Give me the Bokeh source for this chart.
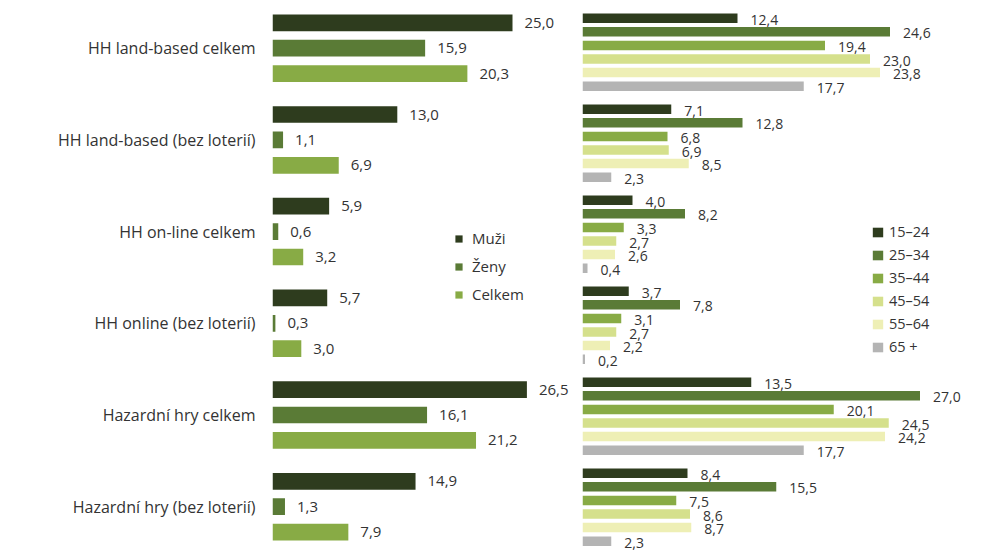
from bokeh.plotting import figure
from bokeh.models import ColumnDataSource, Range1d, FixedTicker, Legend, LegendItem
from bokeh.layouts import row
from bokeh.core.properties import value
from bokeh.embed import file_html
from bokeh.resources import INLINE

# ---------------- data ----------------
categories = [
    "HH land-based celkem",
    "HH land-based (bez loterií)",
    "HH on-line celkem",
    "HH online (bez loterií)",
    "Hazardní hry celkem",
    "Hazardní hry (bez loterií)",
]
sex_series = ["Muži", "Ženy", "Celkem"]
muzi = [25.0, 13.0, 5.9, 5.7, 26.5, 14.9]
zeny = [15.9, 1.1, 0.6, 0.3, 16.1, 1.3]
celkem = [20.3, 6.9, 3.2, 3.0, 21.2, 7.9]

age_series = ["15–24", "25–34", "35–44", "45–54", "55–64", "65 +"]
age_15_24 = [12.4, 7.1, 4.0, 3.7, 13.5, 8.4]
age_25_34 = [24.6, 12.8, 8.2, 7.8, 27.0, 15.5]
age_35_44 = [19.4, 6.8, 3.3, 3.1, 20.1, 7.5]
age_45_54 = [23.0, 6.9, 2.7, 2.7, 24.5, 8.6]
age_55_64 = [23.8, 8.5, 2.6, 2.2, 24.2, 8.7]
age_65 = [17.7, 2.3, 0.4, 0.2, 17.7, 2.3]

# ---------------- styles / layout ----------------
FONT = "Open Sans"
TEXT_COLOR = "#333333"
sex_colors = ["#2e3c1e", "#5a7b36", "#88ab45"]
age_colors = ["#2e3c1e", "#5a7b36", "#88ab45", "#d5e08c", "#eeefb5", "#b4b4b4"]

H = 554
Y_TOP, Y_BOTTOM = 0, 554          # y in pixel-like units (downwards)

L_FIRST, L_PITCH, L_STEP, L_BAR = 22.3, 91.7, 25.4, 16.7
R_FIRST, R_PITCH, R_STEP, R_BAR = 17.7, 91.0, 13.6, 9.5


def fmt(v):
    return f"{v:.1f}".replace(".", ",")


def base_fig(width, x_end, border_left):
    p = figure(width=width, height=H, output_backend="svg", toolbar_location=None,
               x_range=Range1d(0, x_end), y_range=Range1d(Y_BOTTOM, Y_TOP),
               x_axis_location=None, min_border_left=border_left, min_border_right=0,
               min_border_top=0, min_border_bottom=0)
    p.outline_line_color = None
    p.grid.visible = False
    p.background_fill_color = "white"
    p.border_fill_color = "white"
    return p


# ---------------- left panel ----------------
left = base_fig(577, 305 / 9.6, 272)
left_vals = [muzi, zeny, celkem]
left_items = []
for k, (name, vals, col) in enumerate(zip(sex_series, left_vals, sex_colors)):
    ys = [L_FIRST + g * L_PITCH + k * L_STEP for g in range(len(categories))]
    src = ColumnDataSource(dict(y=ys, v=vals, lab=[fmt(v) for v in vals]))
    r = left.hbar(y="y", right="v", left=0, height=L_BAR, source=src,
                  fill_color=col, line_color=None)
    left.text(x="v", y="y", text="lab", source=src, x_offset=12,
              text_align="left", text_baseline="middle",
              text_font=value(FONT), text_font_size="15px", text_color=TEXT_COLOR)
    left_items.append(LegendItem(label=name, renderers=[r]))

ticks = [L_FIRST + g * L_PITCH + L_STEP for g in range(len(categories))]
left.yaxis.ticker = FixedTicker(ticks=ticks)
left.yaxis.major_label_overrides = {t: c for t, c in zip(ticks, categories)}
left.yaxis.axis_line_color = None
left.yaxis.major_tick_line_color = None
left.yaxis.minor_tick_line_color = None
left.yaxis.major_tick_out = 0
left.yaxis.major_tick_in = 0
left.yaxis.major_label_standoff = 17
left.yaxis.major_label_text_font = FONT
left.yaxis.major_label_text_font_size = "16px"
left.yaxis.major_label_text_color = TEXT_COLOR

leg_l = Legend(items=left_items, location=(182, 250), glyph_width=9, glyph_height=9,
               label_standoff=9, label_height=20, spacing=8, padding=0, margin=0,
               border_line_color=None, background_fill_alpha=0,
               label_text_font=FONT, label_text_font_size="15px",
               label_text_color=TEXT_COLOR)
left.add_layout(leg_l)

# ---------------- right panel ----------------
right = base_fig(423, 418 / 12.5, 5)
right.yaxis.visible = False
right_vals = [age_15_24, age_25_34, age_35_44, age_45_54, age_55_64, age_65]
right_items = []
for k, (name, vals, col) in enumerate(zip(age_series, right_vals, age_colors)):
    ys = [R_FIRST + g * R_PITCH + k * R_STEP for g in range(len(categories))]
    src = ColumnDataSource(dict(y=ys, ty=[y + 1.5 for y in ys], v=vals,
                                lab=[fmt(v) for v in vals]))
    r = right.hbar(y="y", right="v", left=0, height=R_BAR, source=src,
                   fill_color=col, line_color=None)
    right.text(x="v", y="ty", text="lab", source=src, x_offset=13,
               text_align="left", text_baseline="middle",
               text_font=value(FONT), text_font_size="14px", text_color=TEXT_COLOR)
    right_items.append(LegendItem(label=name, renderers=[r]))

leg_r = Legend(items=right_items, location=(289, 198), glyph_width=13, glyph_height=12,
               label_standoff=5, label_height=19, spacing=4, padding=0, margin=0,
               border_line_color=None, background_fill_alpha=0,
               label_text_font=FONT, label_text_font_size="14.5px",
               label_text_color=TEXT_COLOR)
right.add_layout(leg_r)

layout = row(left, right)
open("out.html", "w").write(file_html(layout, INLINE))
